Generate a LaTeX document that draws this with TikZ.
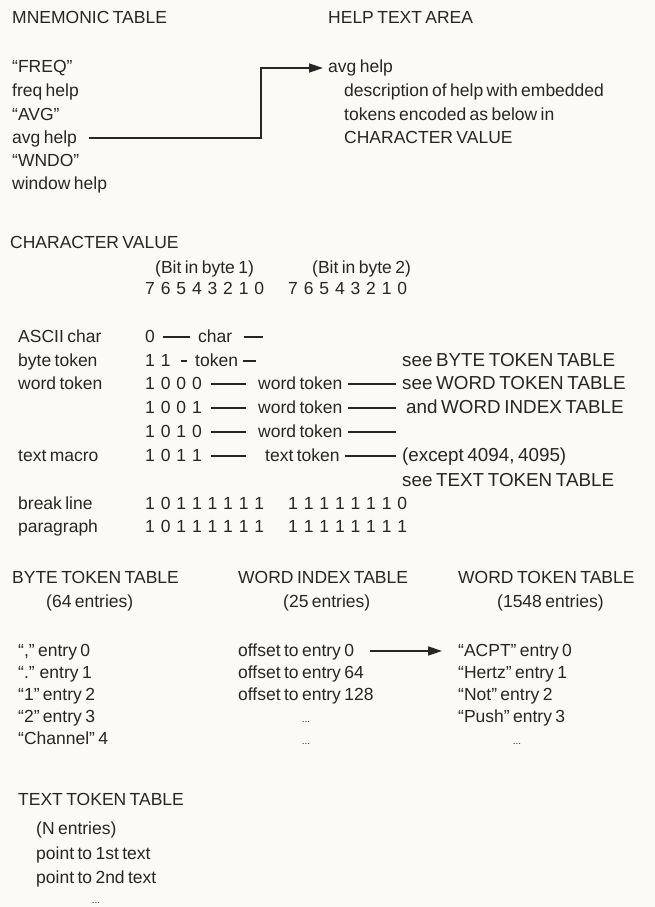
\documentclass[tikz,border=0pt]{standalone}
\usepackage{fontspec}
\setmainfont{Liberation Sans}[WordSpace=0.7]
\usetikzlibrary{arrows.meta}
\definecolor{ink}{HTML}{262626}
\definecolor{paper}{HTML}{FBFAF6}
\newcommand\bitsat[4]{% name, x, baseline, list
  \foreach \d [count=\i from 0] in {#4} \node (#1\i) at (#2+15.6*\i,#3) {\d};}
\begin{document}
\begin{tikzpicture}[x=1pt,y=-1pt,
  every node/.style={font=\fontsize{17.5}{21}\selectfont, text=ink, inner sep=0pt, anchor=base west},
  note/.style={font=\fontsize{18.8}{22}\selectfont},
  ln/.style={draw=ink, line width=1.4pt},
  arr/.style={draw=ink, line width=1.5pt, -{Triangle[length=14pt,width=9pt]}},
  dots/.style={font=\fontsize{10}{12}\selectfont, anchor=base}]
\fill[paper] (0,0) rectangle (655,907);
\useasboundingbox (0,0) rectangle (655,907);
% ---------- top ----------
\node (mt) at (12,24) {MNEMONIC TABLE};
\node (ht) at (328,24) {HELP TEXT AREA};
\node (m1) at (12,73) {``FREQ''};
\node (m2) at (12,96) {freq help};
\node (m3) at (12,120) {``AVG''};
\node (m4) at (12,143) {avg help};
\node (m5) at (12,166) {``WNDO''};
\node (m6) at (12,189) {window help};
\node (h1) at (328,73) {avg help};
\node (h2) at (344,96) {description of help with embedded};
\node (h3) at (344,120) {tokens encoded as below in};
\node (h4) at (344,143) {CHARACTER VALUE};
\coordinate (bend) at (261,68);
\draw[arr] ([xshift=12pt,yshift=5pt]m4.base east) -| (bend) -- ([xshift=-5pt,yshift=5pt]h1.base west);
% ---------- character value ----------
\node (cv) at (10,248) {CHARACTER VALUE};
\node (bb1) at (155,273) {(Bit in byte 1)};
\node (bb2) at (312,273) {(Bit in byte 2)};
\bitsat{hda}{145}{294}{7,6,5,4,3,2,1,0}
\bitsat{hdb}{288}{294}{7,6,5,4,3,2,1,0}
% ASCII
\node (l1) at (18,342) {ASCII char};
\bitsat{ra}{145}{342}{0}
\node (chr) at (198,342) {char};
\coordinate (chrE) at (263,337);
\draw[ln] ([xshift=8pt,yshift=5pt]ra0.base east) -- ([xshift=-8pt,yshift=5pt]chr.base west);
\draw[ln] ([xshift=12pt,yshift=5pt]chr.base east) -- (chrE);
% byte token
\node (l2) at (18,366) {byte token};
\bitsat{rb}{145}{366}{1,1}
\node (tok) at (195,366) {token};
\coordinate (tokE) at (256,361);
\draw[ln] ([xshift=10pt,yshift=5pt]rb1.base east) -- ([xshift=-8pt,yshift=5pt]tok.base west);
\draw[ln] ([xshift=5pt,yshift=5pt]tok.base east) -- (tokE);
\node[note] (sb) at (402,366) {see BYTE TOKEN TABLE};
% word token 1000
\node (l3) at (18,389) {word token};
\bitsat{rc}{145}{389}{1,0,0,0}
\node (wt1) at (258,389) {word token};
\node[note] (sw) at (402,389) {see WORD TOKEN TABLE};
\draw[ln] ([xshift=9pt,yshift=5pt]rc3.base east) -- ([xshift=-12pt,yshift=5pt]wt1.base west);
\draw[ln] ([xshift=5pt,yshift=5pt]wt1.base east) -- ([xshift=-6pt,yshift=5pt]sw.base west);
% 1001
\bitsat{rd}{145}{413}{1,0,0,1}
\node (wt2) at (258,413) {word token};
\node[note] (wi) at (406,413) {and WORD INDEX TABLE};
\draw[ln] ([xshift=9pt,yshift=5pt]rd3.base east) -- ([xshift=-12pt,yshift=5pt]wt2.base west);
\draw[ln] ([xshift=5pt,yshift=5pt]wt2.base east) -- ([xshift=-10pt,yshift=5pt]wi.base west);
% 1010
\bitsat{re}{145}{437}{1,0,1,0}
\node (wt3) at (258,437) {word token};
\coordinate (wt3E) at (396,432);
\draw[ln] ([xshift=9pt,yshift=5pt]re3.base east) -- ([xshift=-12pt,yshift=5pt]wt3.base west);
\draw[ln] ([xshift=5pt,yshift=5pt]wt3.base east) -- (wt3E);
% 1011 text macro
\node (l4) at (18,461) {text macro};
\bitsat{rf}{145}{461}{1,0,1,1}
\node (tt) at (265,461) {text token};
\node[note] (ex) at (402,461) {(except 4094, 4095)};
\draw[ln] ([xshift=9pt,yshift=5pt]rf3.base east) -- ([xshift=-19pt,yshift=5pt]tt.base west);
\draw[ln] ([xshift=5pt,yshift=5pt]tt.base east) -- ([xshift=-6pt,yshift=5pt]ex.base west);
\node[note] (st) at (402,486) {see TEXT TOKEN TABLE};
% break line / paragraph
\node (l5) at (18,509) {break line};
\bitsat{rga}{145}{509}{1,0,1,1,1,1,1,1}
\bitsat{rgb}{288}{509}{1,1,1,1,1,1,1,0}
\node (l6) at (18,532) {paragraph};
\bitsat{rha}{145}{532}{1,0,1,1,1,1,1,1}
\bitsat{rhb}{288}{532}{1,1,1,1,1,1,1,1}
% ---------- bottom tables ----------
\node (bt) at (12,583) {BYTE TOKEN TABLE};
\node (bte) at (46,607) {(64 entries)};
\node (wit) at (238,583) {WORD INDEX TABLE};
\node (wite) at (283,607) {(25 entries)};
\node (wtt) at (458,583) {WORD TOKEN TABLE};
\node (wtte) at (497,607) {(1548 entries)};
\node (b0) at (18,656) {``,'' entry 0};
\node (b1) at (18,678) {``.'' entry 1};
\node (b2) at (18,700) {``1'' entry 2};
\node (b3) at (18,722) {``2'' entry 3};
\node (b4) at (18,744) {``Channel'' 4};
\node (i0) at (238,656) {offset to entry 0};
\node (i1) at (238,678) {offset to entry 64};
\node (i2) at (238,700) {offset to entry 128};
\node[dots] (i3) at (306,722) {...};
\node[dots] (i4) at (306,744) {...};
\node (w0) at (458,656) {``ACPT'' entry 0};
\node (w1) at (458,678) {``Hertz'' entry 1};
\node (w2) at (458,700) {``Not'' entry 2};
\node (w3) at (458,722) {``Push'' entry 3};
\node[dots] (w4) at (517,744) {...};
\draw[arr] ([xshift=16pt,yshift=5pt]i0.base east) -- ([xshift=-16pt,yshift=5pt]w0.base west);
\node (tx) at (18,805) {TEXT TOKEN TABLE};
\node (tx1) at (36,834) {(N entries)};
\node (tx2) at (36,859) {point to 1st text};
\node (tx3) at (36,883) {point to 2nd text};
\node[dots] (tx4) at (96,903) {...};
\end{tikzpicture}
\end{document}
